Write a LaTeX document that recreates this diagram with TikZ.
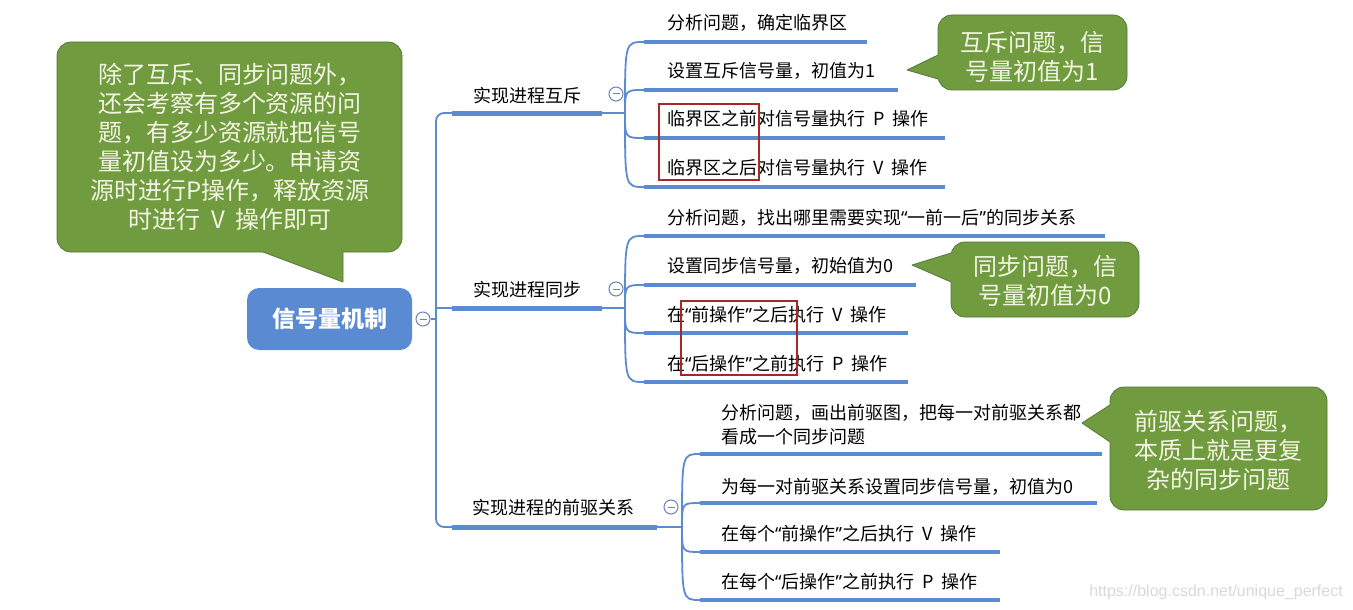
\documentclass[tikz,border=0pt]{standalone}
\usepackage{fontspec}
\setmainfont{Noto Sans CJK SC}
\newfontfamily\wmfont{Liberation Sans}
\newfontfamily\quotefont{Noto Sans}
\newcommand{\lqq}{{\quotefont “}}
\newcommand{\rqq}{{\quotefont ”}}
\newcommand{\wsp}{\hspace{0.45em}}
\definecolor{lineblue}{HTML}{5B8BD0}
\definecolor{rootblue}{HTML}{5A8BD2}
\definecolor{calloutgreen}{HTML}{709B3E}
\definecolor{calloutborder}{HTML}{56783A}
\definecolor{callouttext}{HTML}{F4F4E4}
\definecolor{togglegray}{HTML}{7080B8}
\definecolor{boxred}{HTML}{A82828}
\begin{document}
\begin{tikzpicture}[x=1pt,y=-1pt,
  thinline/.style={draw=lineblue, line width=1.8pt},
  ulbar/.style={draw=lineblue, line width=4pt},
  mainbar/.style={draw=lineblue, line width=5pt},
  itemtext/.style={anchor=west, inner sep=0pt, align=left, font=\fontsize{18}{24}\selectfont, text=black},
  branchtext/.style={inner sep=0pt, font=\fontsize{18}{22}\selectfont, text=black},
  togglec/.style={circle, draw=togglegray, fill=white, line width=1pt, minimum size=14pt, inner sep=0pt},
  calloutbox/.style={fill=calloutgreen, draw=calloutborder, line width=0.8pt, rounded corners=14pt, inner sep=0pt},
  callouttxt/.style={text=callouttext, align=center, font=\fontsize{24}{29}\selectfont, inner sep=0pt},
  tailfill/.style={fill=calloutgreen},
  tailedge/.style={draw=calloutborder, line width=0.8pt, line join=round},
  redbox/.style={draw=boxred, line width=1.5pt}
]
\useasboundingbox (0,0) rectangle (1353,610);
\fill[white] (0,0) rectangle (1353,610);

% ---------- root ----------
\node[fill=rootblue, rounded corners=12pt, minimum width=165pt, minimum height=62pt, inner sep=0pt,
      text=white, font=\bfseries\fontsize{23}{26}\selectfont] (root) at (329.5,319) {信号量机制};
\node[togglec] (t0) at (423,319) {};
\draw[togglegray, line width=1pt] ([xshift=-3.5pt]t0.center) -- ([xshift=3.5pt]t0.center);

% ---------- trunk ----------
\coordinate (jr) at (436,319);
\coordinate (tt) at (436,113);
\coordinate (tb) at (436,527);
\coordinate (j2) at (436,308);
\coordinate (b1s) at (452,113); \coordinate (b1e) at (602,113); \coordinate (b1p) at (625,113);
\coordinate (b2s) at (452,308); \coordinate (b2e) at (602,308); \coordinate (b2p) at (625,308);
\coordinate (b3s) at (452,527); \coordinate (b3e) at (657,527); \coordinate (b3p) at (682,527);

\draw[thinline, rounded corners=8pt] (b1s) -- (tt) -- (tb) -- (b3s);
\draw[thinline] (t0.east) -- (jr);
\draw[thinline] (j2) -- (b2s);

\draw[mainbar] (b1s) -- (b1e); \draw[thinline] (b1e) -- (b1p);
\draw[mainbar] (b2s) -- (b2e); \draw[thinline] (b2e) -- (b2p);
\draw[mainbar] (b3s) -- (b3e); \draw[thinline] (b3e) -- (b3p);

\node[branchtext] (n1) at (527,96) {实现进程互斥};
\node[branchtext] (n2) at (527,290) {实现进程同步};
\node[branchtext] (n3) at (553,508) {实现进程的前驱关系};

\foreach \nm/\px/\py in {t1/616/94, t2/616/289, t3/671/507}{
  \node[togglec] (\nm) at (\px,\py) {};
  \draw[togglegray, line width=1pt] ([xshift=-3.5pt]\nm.center) -- ([xshift=3.5pt]\nm.center);
}

% ---------- branch 1 children ----------
\foreach \nm/\uy/\ux in {u11/42/867, u12/90/898, u13/138/945, u14/187/945}{
  \coordinate (\nm s) at (644,\uy);
  \coordinate (\nm e) at (\ux,\uy);
  \draw[thinline] (b1p) .. controls (b1p |- \nm s) .. (\nm s);
  \draw[ulbar] (\nm s) -- (\nm e);
}
\node[itemtext] (c11) at (667,23) {分析问题，确定临界区};
\node[itemtext] (c12) at (667,71) {设置互斥信号量，初值为1};
\node[itemtext] (c13) at (667,119) {临界区之前对信号量执行\wsp P\wsp 操作};
\node[itemtext] (c14) at (667,168) {临界区之后对信号量执行\wsp V\wsp 操作};
\draw[redbox] (659,104) rectangle (759,180);

% ---------- branch 2 children ----------
\foreach \nm/\uy/\ux in {u21/236/1105, u22/285/916, u23/333/908, u24/382/908}{
  \coordinate (\nm s) at (644,\uy);
  \coordinate (\nm e) at (\ux,\uy);
  \draw[thinline] (b2p) .. controls (b2p |- \nm s) .. (\nm s);
  \draw[ulbar] (\nm s) -- (\nm e);
}
\node[itemtext] (c21) at (667,218) {分析问题，找出哪里需要实现\lqq 一前一后\rqq 的同步关系};
\node[itemtext] (c22) at (667,266) {设置同步信号量，初始值为0};
\node[itemtext] (c23) at (667,315) {在\lqq 前操作\rqq 之后执行\wsp V\wsp 操作};
\node[itemtext] (c24) at (667,364) {在\lqq 后操作\rqq 之前执行\wsp P\wsp 操作};
\draw[redbox] (681,301) rectangle (797,375);

% ---------- branch 3 children ----------
\foreach \nm/\uy/\ux in {u31/454/1102, u32/503/1097, u33/552/1000, u34/600/1000}{
  \coordinate (\nm s) at (700,\uy);
  \coordinate (\nm e) at (\ux,\uy);
  \draw[thinline] (b3p) .. controls (b3p |- \nm s) .. (\nm s);
  \draw[ulbar] (\nm s) -- (\nm e);
}
\node[itemtext] (c31) at (721,425) {分析问题，画出前驱图，把每一对前驱关系都\\看成一个同步问题};
\node[itemtext] (c32) at (721,487) {为每一对前驱关系设置同步信号量，初值为0};
\node[itemtext] (c33) at (721,534) {在每个\lqq 前操作\rqq 之后执行\wsp V\wsp 操作};
\node[itemtext] (c34) at (721,582) {在每个\lqq 后操作\rqq 之前执行\wsp P\wsp 操作};

% ---------- callouts ----------
\node[calloutbox, minimum width=345pt, minimum height=210pt] (k0) at (229.5,147) {};
\fill[tailfill] (260,249) -- (263,252) -- (343,282) -- (343,249) -- cycle;
\draw[tailedge] (263,252) -- (343,282) -- (343,252);
\node[callouttxt] (k0t) at (230,147) {除了互斥、同步问题外，\\还会考察有多个资源的问\\题，有多少资源就把信号\\量初值设为多少。申请资\\源时进行P操作，释放资源\\时进行\wsp V\wsp 操作即可};

\node[calloutbox, minimum width=189pt, minimum height=75pt] (k1) at (1032.5,52.5) {};
\fill[tailfill] (941,52) -- (938,55) -- (907,70) -- (938,79) -- (941,82) -- cycle;
\draw[tailedge] (938,55) -- (907,70) -- (938,79);
\node[callouttxt] (k1t) at (1032,57) {互斥问题，信\\号量初值为1};

\node[calloutbox, minimum width=188pt, minimum height=75pt] (k2) at (1045,279.5) {};
\fill[tailfill] (954,250) -- (951,253) -- (912,265) -- (951,282) -- (954,285) -- cycle;
\draw[tailedge] (951,253) -- (912,265) -- (951,282);
\node[callouttxt] (k2t) at (1045,281) {同步问题，信\\号量初值为0};

\node[calloutbox, minimum width=217pt, minimum height=123pt] (k3) at (1218.5,448.5) {};
\fill[tailfill] (1113,402) -- (1110,405) -- (1082,423) -- (1110,442) -- (1113,445) -- cycle;
\draw[tailedge] (1110,405) -- (1082,423) -- (1110,442);
\node[callouttxt] (k3t) at (1218,450) {前驱关系问题，\\本质上就是更复\\杂的同步问题};

\node[anchor=east, inner sep=0pt, text=black!15, font=\wmfont\fontsize{16}{18}\selectfont] (wm) at (1343,592) {https://blog.csdn.net/unique\_perfect};
\end{tikzpicture}
\end{document}
